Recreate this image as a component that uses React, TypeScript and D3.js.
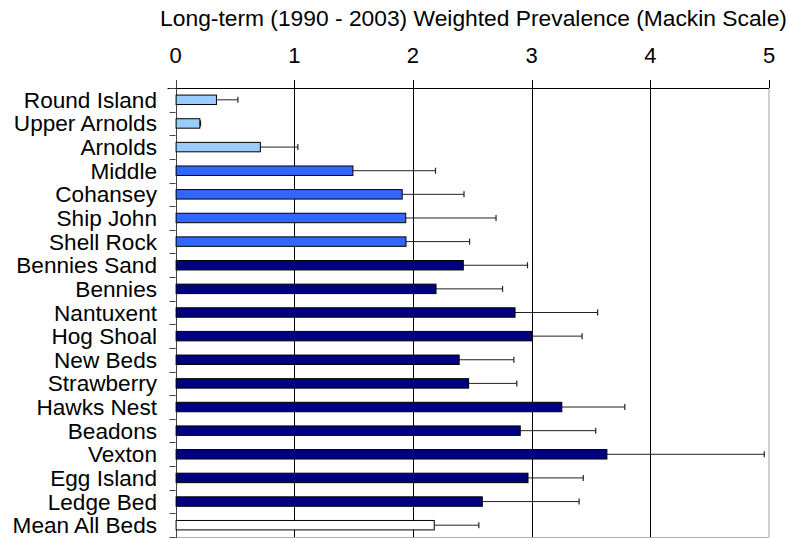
import React from "react";
import * as d3 from "d3";

// Oyster beds, listed top to bottom
const beds = [
  "Round Island",
  "Upper Arnolds",
  "Arnolds",
  "Middle",
  "Cohansey",
  "Ship John",
  "Shell Rock",
  "Bennies Sand",
  "Bennies",
  "Nantuxent",
  "Hog Shoal",
  "New Beds",
  "Strawberry",
  "Hawks Nest",
  "Beadons",
  "Vexton",
  "Egg Island",
  "Ledge Bed",
  "Mean All Beds",
];

// Long-term weighted prevalence per bed (Mackin scale)
const prevalence = [
  0.34, 0.2, 0.71, 1.49, 1.905, 1.935, 1.937, 2.42, 2.19, 2.856, 3.0, 2.385,
  2.465, 3.25, 2.9, 3.63, 2.965, 2.58, 2.175,
];

// Upper error (one standard deviation)
const errorUp = [
  0.185, 0.01, 0.32, 0.7, 0.525, 0.765, 0.54, 0.545, 0.565, 0.7, 0.425, 0.465,
  0.41, 0.535, 0.64, 1.33, 0.47, 0.82, 0.38,
];

// Salinity zone of each bed, drives the bar fill
const zones = [
  "low", "low", "low",
  "medium", "medium", "medium", "medium",
  "high", "high", "high", "high", "high", "high", "high", "high", "high", "high", "high",
  "mean",
];

const xTicks = [0, 1, 2, 3, 4, 5];

const zoneColor: Record<string, string> = {
  low: "#99CCFF",
  medium: "#3366FF",
  high: "#000080",
  mean: "#FFFFFF",
};

const W = 789;
const H = 540;
const plot = { left: 175.6, right: 769, top: 88, bottom: 537 };
const FONT = "'Liberation Sans', Arial, sans-serif";

export default function App() {
  const x = d3.scaleLinear().domain([0, 5]).range([plot.left, plot.right]);
  const y = d3
    .scaleBand<string>()
    .domain(beds)
    .range([plot.top, plot.bottom])
    .paddingInner(0.6)
    .paddingOuter(0.3);
  const step = y.step();
  const bw = y.bandwidth();

  const boundaries = d3.range(beds.length + 1).map((i) => plot.top + i * step);

  return (
    <svg
      width={W}
      height={H}
      viewBox={`0 0 ${W} ${H}`}
      style={{ position: "absolute", left: 0, top: 0, background: "#fff" }}
      fontFamily={FONT}
    >
      <rect x={0} y={0} width={W} height={H} fill="#fff" />

      {/* title */}
      <text x={473.5} y={26} fontSize={22.8} textAnchor="middle" fill="#000">
        Long-term (1990 - 2003) Weighted Prevalence (Mackin Scale)
      </text>

      {/* plot border: right and bottom */}
      <line x1={plot.right} x2={plot.right} y1={plot.top} y2={plot.bottom} stroke="#a0a0a0" />
      <line x1={plot.left} x2={plot.right} y1={plot.bottom + 0.5} y2={plot.bottom + 0.5} stroke="#b0b0b0" />

      {/* vertical gridlines */}
      {xTicks.slice(1, -1).map((t) => (
        <line
          key={`g${t}`}
          x1={Math.round(x(t)) + 0.5}
          x2={Math.round(x(t)) + 0.5}
          y1={plot.top}
          y2={plot.bottom}
          stroke="#000"
        />
      ))}

      {/* top axis */}
      <line x1={plot.left - 8} x2={plot.right} y1={plot.top + 0.5} y2={plot.top + 0.5} stroke="#000" />
      {xTicks.map((t) => (
        <g key={`t${t}`}>
          <line
            x1={Math.round(x(t)) + 0.5}
            x2={Math.round(x(t)) + 0.5}
            y1={plot.top - 8}
            y2={plot.top}
            stroke="#000"
          />
          <text x={x(t)} y={63} fontSize={22} textAnchor="middle" fill="#000">
            {t}
          </text>
        </g>
      ))}

      {/* left axis */}
      <line
        x1={Math.round(plot.left) + 0.5}
        x2={Math.round(plot.left) + 0.5}
        y1={plot.top - 8}
        y2={plot.bottom + 1}
        stroke="#444"
      />
      {boundaries.map((b, i) => (
        <line
          key={`b${i}`}
          x1={plot.left - 6}
          x2={plot.left}
          y1={Math.round(b) + 0.5}
          y2={Math.round(b) + 0.5}
          stroke="#444"
        />
      ))}

      {/* bars with error bars */}
      {beds.map((bed, i) => {
        const y0 = y(bed)!;
        const cy = y0 + bw / 2;
        const x0 = x(0);
        const x1 = x(prevalence[i]);
        const xe = x(prevalence[i] + errorUp[i]);
        return (
          <g key={bed}>
            <line x1={x1} x2={xe} y1={cy} y2={cy} stroke="#222" strokeWidth={1} />
            <line x1={xe} x2={xe} y1={cy - 3} y2={cy + 3} stroke="#222" strokeWidth={1.2} />
            <rect
              x={x0 + 0.5}
              y={y0}
              width={x1 - x0}
              height={bw}
              fill={zoneColor[zones[i]]}
              stroke="#000"
              strokeWidth={1}
            />
            <text
              x={157}
              y={cy + 8}
              fontSize={22.6}
              textAnchor="end"
              fill="#000"
            >
              {bed}
            </text>
          </g>
        );
      })}
    </svg>
  );
}
